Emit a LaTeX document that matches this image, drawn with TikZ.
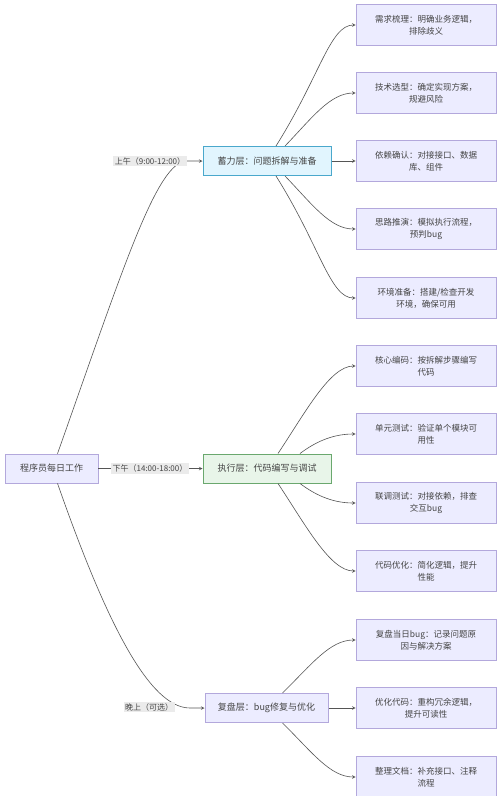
\documentclass[tikz,border=0pt]{standalone}
\usepackage{fontspec}
\usepackage{xcolor}
\usepackage{tikz}
\usetikzlibrary{positioning}
\newfontfamily\cjk{Noto Sans CJK SC}
\definecolor{ink}{HTML}{444444}
\definecolor{wire}{HTML}{555555}
\definecolor{lavender}{HTML}{ECECFF}
\definecolor{lilac}{HTML}{B3A8DC}
\definecolor{skyfill}{HTML}{E1F5FE}
\definecolor{skyline}{HTML}{4AA8CC}
\definecolor{mintfill}{HTML}{E8F5E9}
\definecolor{mintline}{HTML}{6AA86E}
\definecolor{tagfill}{HTML}{EBEBEB}

\begin{document}
\begin{tikzpicture}[x=1pt, y=-1pt,
  task/.style={rectangle, draw=lilac, fill=lavender, line width=0.7pt,
               minimum width=140pt, minimum height=41pt, align=center,
               text=ink, font=\cjk\fontsize{8.5}{12}\selectfont},
  layer/.style={rectangle, line width=1pt, minimum width=128pt,
                minimum height=29pt, text=ink, font=\cjk\fontsize{9}{11}\selectfont},
  arrow/.style={->, >=stealth, line width=0.6pt, color=wire},
  tag/.style={fill=tagfill, inner sep=1.5pt, text=ink, font=\cjk\fontsize{8}{10}\selectfont}
]
\useasboundingbox (0,0) rectangle (500,796);
\fill[white] (0,0) rectangle (500,796);

\node[task, minimum width=93pt, minimum height=29pt, font=\cjk\fontsize{9}{11}\selectfont] (root) at (51.5,468.5) {程序员每日工作};

\node[layer, draw=skyline, fill=skyfill] (prep) at (267,161) {蓄力层：问题拆解与准备};
\node[layer, draw=mintline, fill=mintfill] (exec) at (267,468.5) {执行层：代码编写与调试};
\node[layer, draw=lilac, fill=lavender, minimum width=123pt] (review) at (266.5,708) {复盘层：bug修复与优化};

\node[task] (t1) at (426,25) {需求梳理：明确业务逻辑，\\排除歧义};
\node[task] (t2) at (426,93) {技术选型：确定实现方案，\\规避风险};
\node[task] (t3) at (426,161) {依赖确认：对接接口、数据\\库、组件};
\node[task] (t4) at (426,229) {思路推演：模拟执行流程，\\预判bug};
\node[task] (t5) at (426,298) {环境准备：搭建/检查开发\\环境，确保可用};
\node[task] (t6) at (426,366) {核心编码：按拆解步骤编写\\代码};
\node[task] (t7) at (426,434) {单元测试：验证单个模块可\\用性};
\node[task] (t8) at (426,503) {联调测试：对接依赖，排查\\交互bug};
\node[task] (t9) at (426,571) {代码优化：简化逻辑，提升\\性能};
\node[task] (t10) at (426,640) {复盘当日bug：记录问题原\\因与解决方案};
\node[task] (t11) at (426,708) {优化代码：重构冗余逻辑，\\提升可读性};
\node[task] (t12) at (426,777) {整理文档：补充接口、注释\\流程};

% root to the three layers
\coordinate (m1) at (187,161);
\coordinate (m3) at (190,708);
\draw[arrow] ([xshift=6pt]root.north) .. controls (124,266) and (157,161) .. (m1) -- (prep);
\draw[arrow] (root) -- (exec);
\draw[arrow] ([xshift=6pt]root.south) .. controls (107,625) and (150,708) .. (m3) -- (review);

\node[tag] (am) at (150,161) {上午（9:00-12:00）};
\node[tag] (pm) at (150,468.5) {下午（14:00-18:00）};
\node[tag] (ev) at (149,707) {晚上（可选）};

% layers to tasks
\draw[arrow] ([xshift=9pt]prep.north) .. controls (320,76) and (330,25) .. (t1.west);
\draw[arrow] ([xshift=18pt]prep.north) .. controls (312,118) and (330,93) .. (t2.west);
\draw[arrow] (prep) -- (t3);
\draw[arrow] ([xshift=18pt]prep.south) .. controls (312,204) and (330,229) .. (t4.west);
\draw[arrow] ([xshift=9pt]prep.south) .. controls (320,246) and (330,298) .. (t5.west);

\draw[arrow] ([xshift=11pt]exec.north) .. controls (305,413) and (330,366) .. (t6.west);
\draw[arrow] ([xshift=33pt]exec.north) .. controls (318,440) and (335,434) .. (t7.west);
\draw[arrow] ([xshift=33pt]exec.south) .. controls (318,497) and (335,503) .. (t8.west);
\draw[arrow] ([xshift=11pt]exec.south) .. controls (305,524) and (330,571) .. (t9.west);

\draw[arrow] ([xshift=16pt]review.north) .. controls (312,664) and (330,640) .. (t10.west);
\draw[arrow] (review) -- (t11);
\draw[arrow] ([xshift=16pt]review.south) .. controls (312,752) and (330,777) .. (t12.west);
\end{tikzpicture}
\end{document}
